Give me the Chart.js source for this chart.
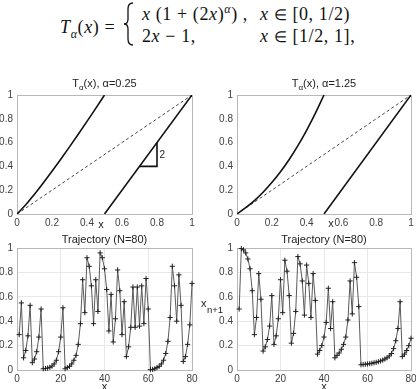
<!DOCTYPE html>
<html>
<head>
<meta charset="utf-8">
<script src="https://cdn.jsdelivr.net/npm/chart.js@4.4.1/dist/chart.umd.min.js"></script>
<style>
  html, body { margin: 0; padding: 0; background: #fff; }
  #wrap { position: relative; width: 416px; height: 389px; overflow: hidden; }
  #wrap canvas, #wrap svg { position: absolute; left: 0; top: 0; }
  .fm { position: absolute; font-family: 'Liberation Serif', serif; font-size: 18px; line-height: 18px; letter-spacing: 0.6px; white-space: nowrap; color: #111; }
  .fm i { font-style: italic; }
  .fm sub, .fm sup { font-size: 12px; line-height: 0; }
  .fm .el { font-size: 15px; }
</style>
</head>
<body>
<div id="wrap">
  <svg width="416" height="60">
    <path d="M133,3 C129,3 128,5 128,9 L128,19 C128,22 127,24 124,24 C127,24 128,26 128,29 L128,39 C128,43 129,45 133,45" fill="none" stroke="#111" stroke-width="1.3"/>
  </svg>
  <div class="fm" style="left:60px; top:18px"><i>T</i><sub><i>α</i></sub>(<i>x</i>) =</div>
  <div class="fm" style="left:142px; top:5px"><i>x</i> (1 + (2<i>x</i>)<sup><i>α</i></sup>) ,</div>
  <div class="fm" style="left:260px; top:5px"><i>x</i> <span class="el">∈</span> [0, 1/2)</div>
  <div class="fm" style="left:142px; top:27px">2<i>x</i> − 1,</div>
  <div class="fm" style="left:260px; top:27px"><i>x</i> <span class="el">∈</span> [1/2, 1],</div>
  <canvas id="mapLow" width="416" height="389"></canvas>
  <canvas id="mapHigh" width="416" height="389"></canvas>
  <canvas id="trajLow" width="416" height="389"></canvas>
  <canvas id="trajHigh" width="416" height="389"></canvas>
</div>
<script>
// map T_alpha on [0, 1/2]
const xLeft = [0, 0.05, 0.1, 0.15, 0.2, 0.25, 0.3, 0.35, 0.4, 0.45, 0.5];
const yLeft025 = [0, 0.078, 0.167, 0.261, 0.359, 0.46, 0.564, 0.67, 0.778, 0.888, 1];
const yLeft125 = [0, 0.053, 0.113, 0.183, 0.264, 0.355, 0.458, 0.574, 0.703, 0.845, 1];
// right branch 2x-1 and the dashed diagonal
const xRight = [0.5, 1];
const yRight = [0, 1];
const xDiag = [0, 1];
const yDiag = [0, 1];
// slope triangle in the alpha=0.25 panel
const xTri = [0.7, 0.8, 0.8];
const yTri = [0.4, 0.4, 0.6];

// trajectories, N=80
const traj025 = [
  0.29, 0.55, 0.10, 0.16, 0.28, 0.53, 0.06, 0.09, 0.15, 0.27,
  0.50, 0.01, 0.012, 0.016, 0.022, 0.032, 0.05, 0.08, 0.15, 0.27,
  0.51, 0.01, 0.02, 0.03, 0.05, 0.08, 0.12, 0.21, 0.38, 0.74,
  0.47, 0.92, 0.85, 0.69, 0.38, 0.74, 0.48, 0.96, 0.92, 0.83,
  0.66, 0.32, 0.62, 0.23, 0.42, 0.82, 0.65, 0.29, 0.56, 0.11,
  0.19, 0.35, 0.68, 0.35, 0.68, 0.36, 0.69, 0.38, 0.75, 0.50,
  0.003, 0.005, 0.01, 0.02, 0.03, 0.05, 0.08, 0.135, 0.235, 0.43,
  0.85, 0.69, 0.40, 0.78, 0.53, 0.07, 0.11, 0.21, 0.37, 0.71
];
const traj125 = [
  0.50, 0.995, 0.985, 0.96, 0.91, 0.83, 0.65, 0.29, 0.43, 0.79,
  0.58, 0.155, 0.19, 0.25, 0.36, 0.61, 0.21, 0.28, 0.42, 0.74,
  0.47, 0.90, 0.81, 0.61, 0.22, 0.30, 0.48, 0.93, 0.87, 0.73,
  0.45, 0.86, 0.71, 0.43, 0.79, 0.57, 0.13, 0.16, 0.20, 0.27,
  0.39, 0.67, 0.34, 0.56, 0.10, 0.12, 0.14, 0.17, 0.21, 0.27,
  0.41, 0.73, 0.46, 0.88, 0.76, 0.52, 0.043, 0.045, 0.047, 0.049,
  0.052, 0.055, 0.059, 0.063, 0.068, 0.074, 0.081, 0.09, 0.10, 0.115,
  0.135, 0.175, 0.24, 0.34, 0.56, 0.11, 0.13, 0.16, 0.20, 0.26
];

Chart.defaults.font.family = "'Liberation Sans', Arial, sans-serif";
Chart.defaults.color = '#404040';
const tickFont = { family: "'Liberation Sans Narrow', 'Liberation Sans', sans-serif", size: 10 };

function pts(xs, ys) {
  return xs.map((x, i) => ({ x: x, y: ys[i] }));
}

// draws axes box, titles, axis labels and small notes
const decor = {
  id: 'decor',
  beforeDatasetsDraw(chart) {
    const { ctx, chartArea: a } = chart;
    ctx.save();
    ctx.strokeStyle = '#b8b8b8';
    ctx.lineWidth = 1;
    ctx.strokeRect(Math.round(a.left) + 0.5, Math.round(a.top) + 0.5, Math.round(a.width), Math.round(a.height));
    ctx.restore();
  },
  afterDraw(chart, args, o) {
    const { ctx, chartArea: a } = chart;
    ctx.save();
    ctx.fillStyle = '#222';
    ctx.textBaseline = 'middle';
    // title made of parts, some subscripted
    if (o.title) {
      const big = '11px ' + Chart.defaults.font.family;
      const small = '8px ' + Chart.defaults.font.family;
      let w = 0;
      o.title.forEach(p => { ctx.font = p.sub ? small : big; w += ctx.measureText(p.t).width; });
      let x = (a.left + a.right) / 2 - w / 2;
      const y = a.top - o.titleDy;
      ctx.textAlign = 'left';
      o.title.forEach(p => {
        ctx.font = p.sub ? small : big;
        ctx.fillText(p.t, x, p.sub ? y + 4 : y);
        x += ctx.measureText(p.t).width;
      });
    }
    if (o.xlab) {
      ctx.font = '11px ' + Chart.defaults.font.family;
      ctx.textAlign = 'center';
      ctx.fillText('x', (a.left + a.right) / 2 + o.xlab.dx, a.bottom + o.xlab.dy);
    }
    if (o.ylab) {
      ctx.textAlign = 'left';
      ctx.font = '11px ' + Chart.defaults.font.family;
      ctx.fillText('x', a.left - o.ylab.dx, o.ylab.y);
      ctx.font = '9.5px ' + Chart.defaults.font.family;
      ctx.fillText('n+1', a.left - o.ylab.dx + 6, o.ylab.y + 6);
    }
    if (o.notes) {
      ctx.font = '10px ' + Chart.defaults.font.family;
      ctx.textAlign = 'center';
      o.notes.forEach(n => {
        ctx.fillText(n.text, chart.scales.x.getPixelForValue(n.x), chart.scales.y.getPixelForValue(n.y));
      });
    }
    ctx.restore();
  }
};

const tickText = v => String(Math.round(v * 100) / 100);

function buildChart(id, box, xMax, xStep, datasets, decorOpts, showGrid) {
  const YW = Math.min(box.l, 30), XH = 16;
  return new Chart(document.getElementById(id), {
    type: 'line',
    data: { datasets: datasets },
    plugins: [decor],
    options: {
      responsive: false,
      animation: false,
      devicePixelRatio: 1,
      events: [],
      layout: { padding: { left: box.l - YW, top: box.t, right: 416 - box.r, bottom: 389 - box.b - XH } },
      plugins: { legend: { display: false }, tooltip: { enabled: false }, decor: decorOpts },
      scales: {
        x: {
          type: 'linear', min: 0, max: xMax,
          afterFit(s) { s.height = XH; s.paddingLeft = 0; s.paddingRight = 0; },
          ticks: { stepSize: xStep, padding: 3, maxRotation: 0, autoSkip: false, font: tickFont, callback: tickText },
          grid: { display: showGrid, color: '#e8e8e8', drawTicks: false },
          border: { display: false }
        },
        y: {
          type: 'linear', min: 0, max: 1,
          afterFit(s) { s.width = YW; s.paddingTop = 0; s.paddingBottom = 0; },
          ticks: { stepSize: 0.2, padding: 4, font: tickFont, callback: tickText },
          grid: { display: showGrid, color: '#e8e8e8', drawTicks: false },
          border: { display: false }
        }
      }
    }
  });
}

const curve = { borderColor: '#111', borderWidth: 1.6, pointRadius: 0, fill: false };
const dashed = { borderColor: '#444', borderWidth: 1, borderDash: [3, 2.5], pointRadius: 0, fill: false };
const trajStyle = {
  borderColor: '#5a5a5a', borderWidth: 1, pointStyle: 'cross', pointRadius: 2.6,
  pointBorderColor: '#222', pointBorderWidth: 1, clip: false, fill: false
};

buildChart('mapLow', { l: 17, t: 95, r: 192, b: 214 }, 1, 0.2, [
  { ...curve, data: pts(xLeft, yLeft025), cubicInterpolationMode: 'monotone' },
  { ...curve, data: pts(xRight, yRight) },
  { ...dashed, data: pts(xDiag, yDiag) },
  { ...curve, data: pts(xTri, yTri) }
], {
  title: [{ t: 'T' }, { t: 'α', sub: true }, { t: '(x), α=0.25' }], titleDy: 11,
  xlab: { dx: -3.5, dy: 11 },
  notes: [{ x: 0.83, y: 0.49, text: '2' }]
}, false);

buildChart('mapHigh', { l: 237, t: 95, r: 411, b: 214 }, 1, 0.2, [
  { ...curve, data: pts(xLeft, yLeft125), cubicInterpolationMode: 'monotone' },
  { ...curve, data: pts(xRight, yRight) },
  { ...dashed, data: pts(xDiag, yDiag) }
], {
  title: [{ t: 'T' }, { t: 'α', sub: true }, { t: '(x), α=1.25' }], titleDy: 11,
  xlab: { dx: 7, dy: 10 }
}, false);

buildChart('trajLow', { l: 17, t: 248, r: 192, b: 370 }, 80, 20, [
  { ...trajStyle, data: traj025.map((v, i) => ({ x: i + 1, y: v })) }
], {
  title: [{ t: 'Trajectory (N=80)' }], titleDy: 8.5,
  xlab: { dx: 0, dy: 17 }
}, true);

buildChart('trajHigh', { l: 237, t: 248, r: 411, b: 370 }, 80, 20, [
  { ...trajStyle, data: traj125.map((v, i) => ({ x: i + 1, y: v })) }
], {
  title: [{ t: 'Trajectory (N=80)' }], titleDy: 8.5,
  xlab: { dx: 0, dy: 17 },
  ylab: { dx: 36, y: 304 }
}, true);
</script>
</body>
</html>
